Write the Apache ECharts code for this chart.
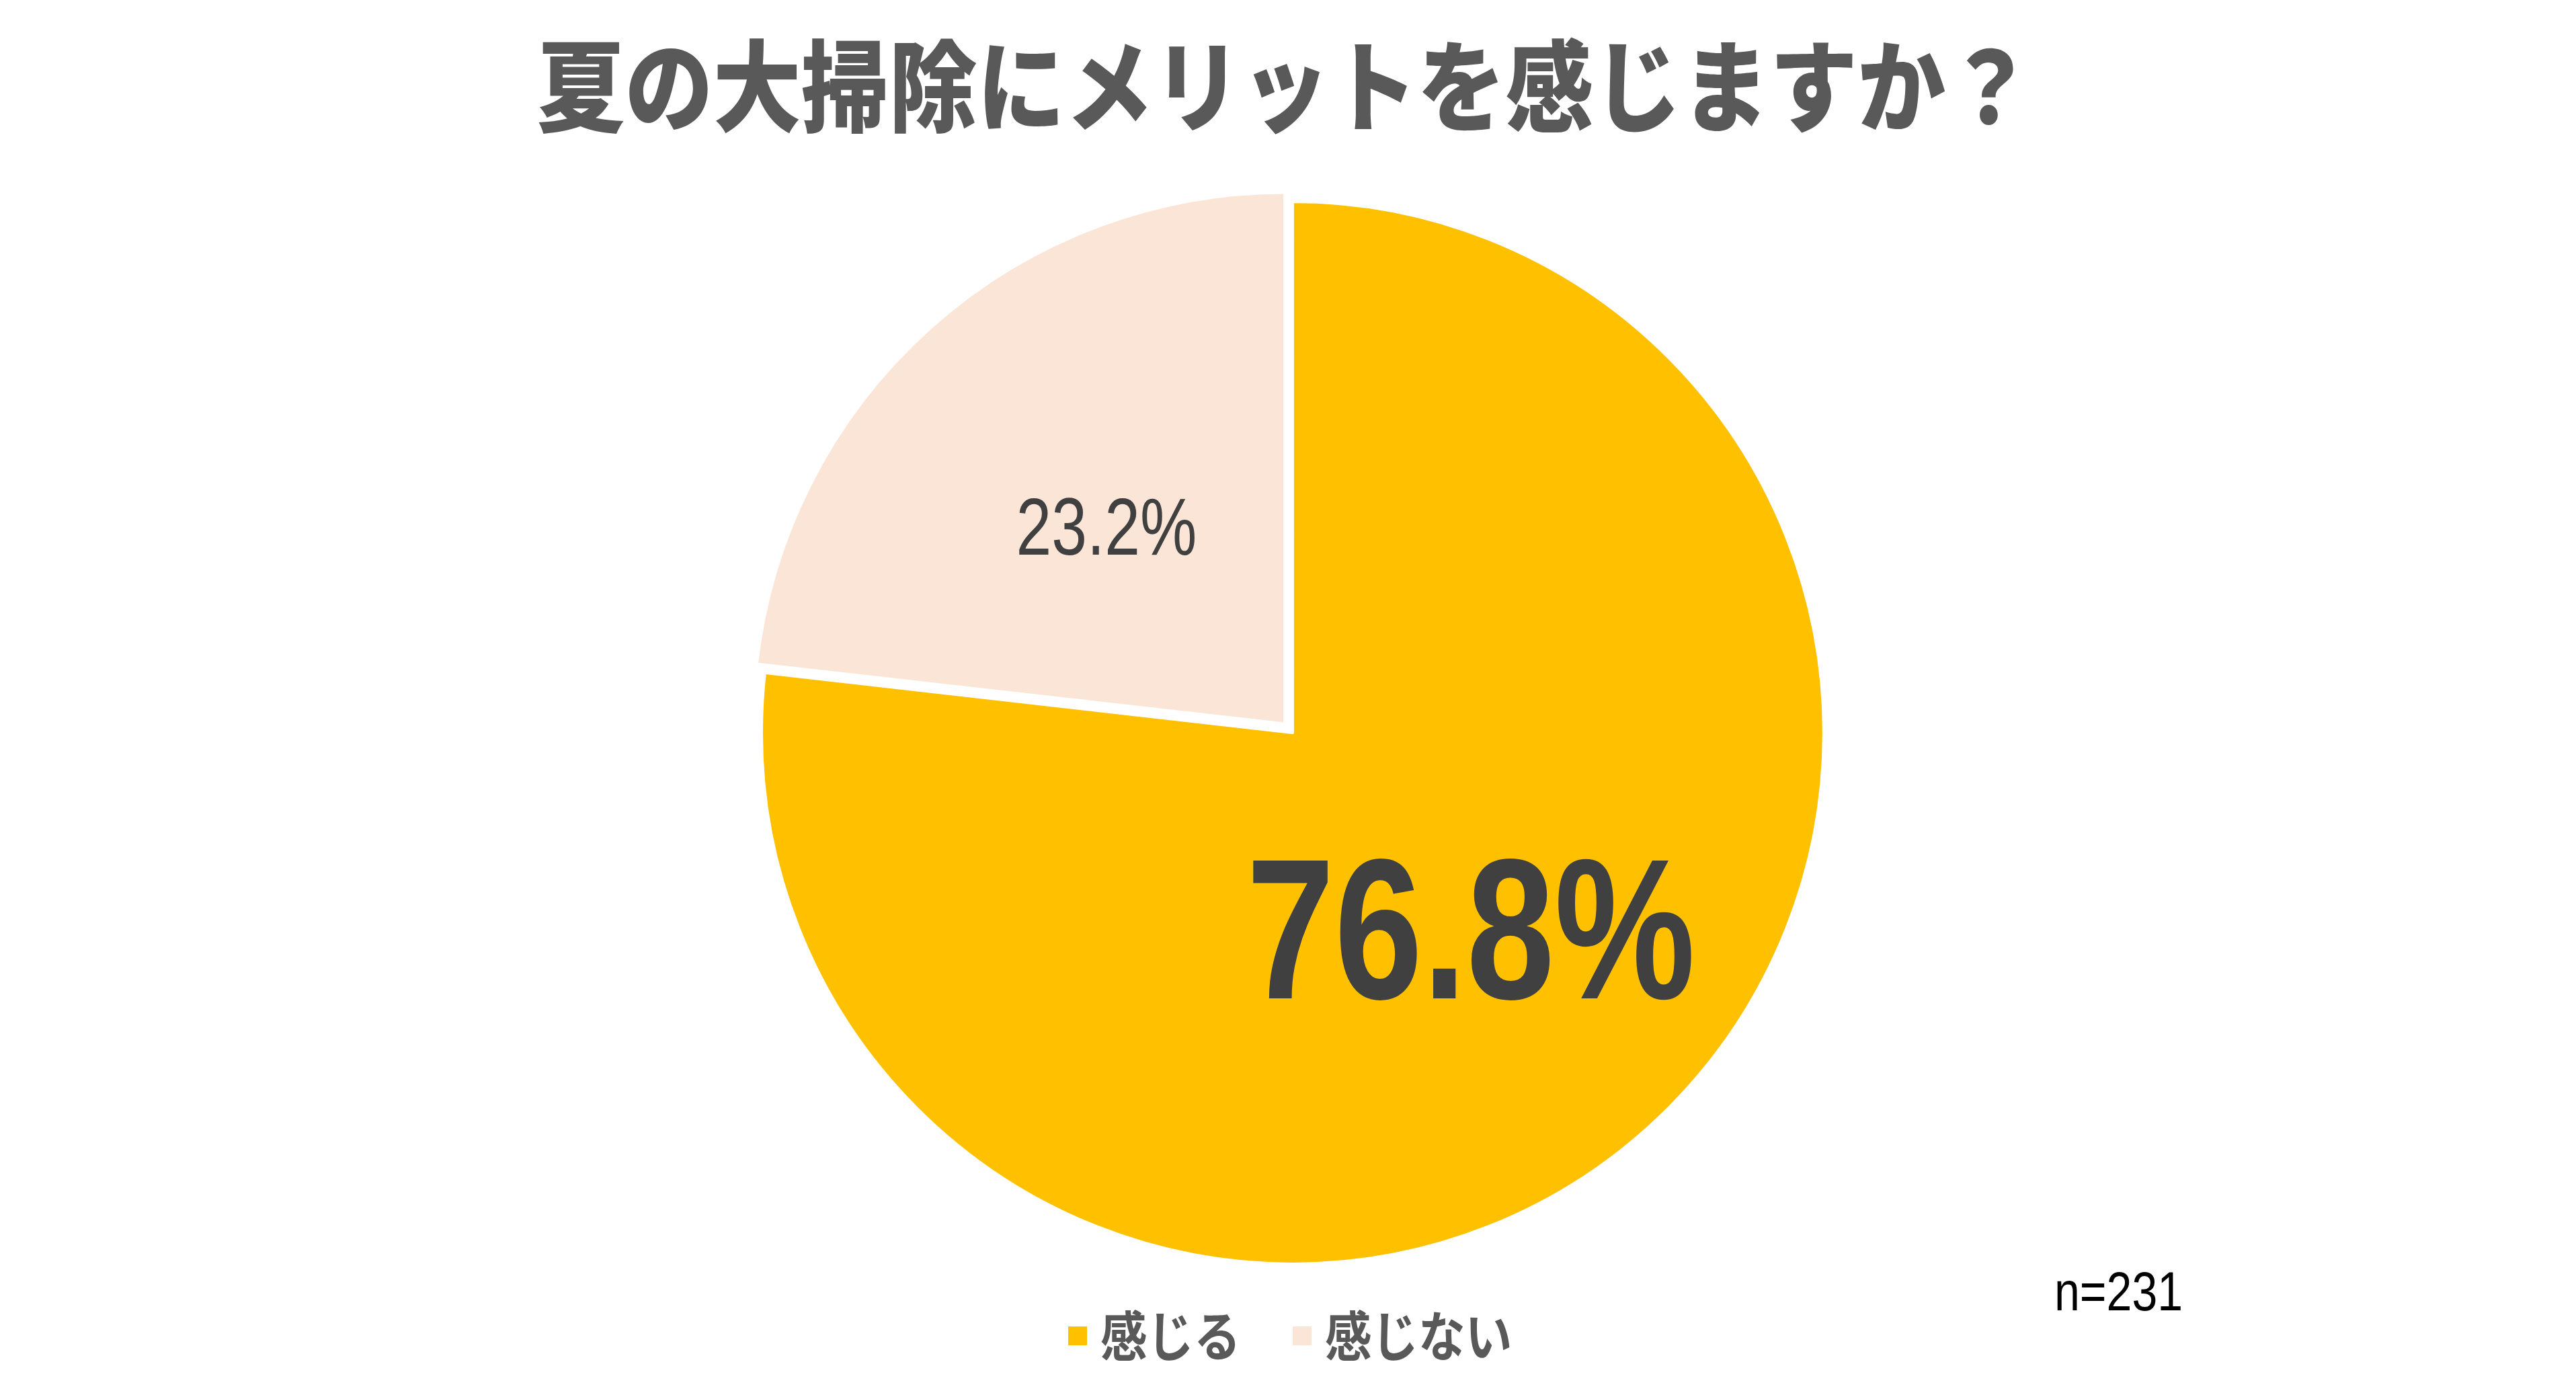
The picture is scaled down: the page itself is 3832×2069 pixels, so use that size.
<!DOCTYPE html>
<html>
<head>
<meta charset="utf-8">
<script src="https://cdn.jsdelivr.net/npm/echarts@6/dist/echarts.min.js"></script>
<style>
html,body{margin:0;padding:0;background:#fff;}
#chart{width:3832px;height:2069px;}
</style>
</head>
<body>
<div id="chart"></div>
<script>
const titleText = '夏の大掃除にメリットを感じますか？';
const categories = ['感じる', '感じない'];
const values = [76.8, 23.2];
const sliceColors = ['#FFC000', '#FBE5D6'];
const sampleNote = 'n=231';

const chart = echarts.init(document.getElementById('chart'));
const numFont = '"Liberation Sans", Arial, sans-serif';
const jpFont = '"Noto Sans CJK JP", sans-serif';

const labelStyles = [
  { fontSize: 298, fontWeight: 'bold' },
  { fontSize: 120, fontWeight: 'normal' }
];
const labelNudge = [16, 12];

chart.setOption({
  animation: false,
  backgroundColor: '#ffffff',
  graphic: [
    {
      type: 'text',
      x: 1912,
      y: 128,
      scaleX: 0.885,
      scaleY: 1.0,
      style: {
        text: titleText,
        font: '900 148px ' + jpFont,
        fill: '#595959',
        textAlign: 'center',
        textVerticalAlign: 'middle'
      }
    },
    {
      type: 'text',
      x: 3056,
      y: 1926,
      scaleX: 0.83,
      style: {
        text: sampleNote,
        font: '82px ' + numFont,
        fill: '#000000',
        textAlign: 'left',
        textVerticalAlign: 'middle'
      }
    }
  ],
  legend: {
    data: categories,
    left: 1587,
    top: 1947,
    padding: 0,
    icon: 'rect',
    itemWidth: 30,
    itemHeight: 30,
    itemGap: 42,
    selectedMode: false,
    textStyle: {
      fontFamily: jpFont,
      fontWeight: 'bold',
      fontSize: 80,
      color: '#595959',
      padding: [0, 0, 0, 16]
    }
  },
  series: [{
    type: 'pie',
    center: ['50.18%', '52.68%'],
    radius: 790,
    startAngle: 90,
    clockwise: true,
    selectedMode: 'single',
    selectedOffset: 18,
    avoidLabelOverlap: false,
    emphasis: { disabled: true },
    itemStyle: { borderColor: '#ffffff', borderWidth: 4 },
    label: {
      show: true,
      position: 'inside',
      formatter: '{c}%',
      fontFamily: numFont,
      color: '#404040'
    },
    labelLine: { show: false },
    data: categories.map((name, i) => ({
      name: name,
      value: values[i],
      selected: i === 1,
      itemStyle: { color: sliceColors[i] },
      label: labelStyles[i]
    }))
  }]
});

// condense text horizontally (the reference uses narrow faces)
function condenseTexts() {
  const zr = chart.getZr();
  zr.storage.getRoots().forEach(function (root) {
    const visit = function (el) {
      const t = el.getTextContent && el.getTextContent();
      if (t && t.style && typeof t.style.text === 'string' && /%$/.test(t.style.text) && !t.__condensed) {
        const idx = t.style.text === values[0] + '%' ? 0 : 1;
        t.scaleX = 0.79;
        t.y = (t.y || 0) + labelNudge[idx];
        t.__condensed = true;
        t.markRedraw();
      }
      if (el.type === 'text' && el.style && categories.indexOf(el.style.text) >= 0 && !el.__condensed) {
        el.originX = el.style.x || 0;
        el.scaleX = 0.87;
        el.__condensed = true;
        el.markRedraw();
      }
    };
    visit(root);
    if (root.traverse) root.traverse(visit);
  });
  zr.refresh();
}
condenseTexts();
chart.on('finished', condenseTexts);
</script>
</body>
</html>
